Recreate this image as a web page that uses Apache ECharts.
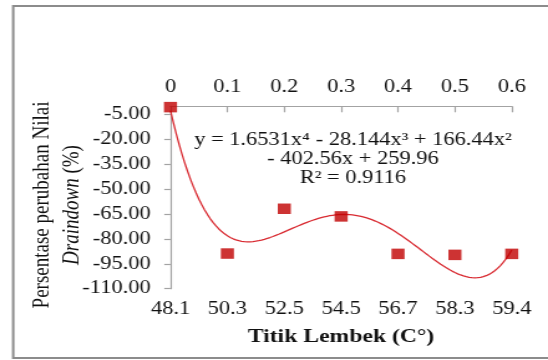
<!DOCTYPE html>
<html>
<head>
<meta charset="utf-8">
<script src="https://cdn.jsdelivr.net/npm/echarts@6/dist/echarts.min.js"></script>
<style>
  html, body { margin: 0; padding: 0; background: #fff; overflow: hidden; }
  /* The chart is laid out narrow and widened horizontally to fill the page */
  #chart { width: 440px; height: 360px; transform: scaleX(1.24545); transform-origin: 0 0; }
</style>
</head>
<body>
<div id="chart"></div>
<script>
// Softening point of each sample (bottom axis)
const softeningPoints = ['48.1', '50.3', '52.5', '54.5', '56.7', '58.3', '59.4'];
// Change in draindown value, percent
const draindownChange = [-0.5, -88.8, -61.8, -66.4, -89.0, -89.6, -89.0];
// Labels along the top axis
const topTicks = [0, 0.1, 0.2, 0.3, 0.4, 0.5, 0.6];
// Left axis tick labels
const yTicks = [-110, -95, -80, -65, -50, -35, -20, -5];
// Polynomial trendline coefficients, highest power first (x = 1..7)
const trendCoef = [1.6531, -28.144, 166.44, -402.56, 259.96];
const rSquared = 0.9116;

const FONT = "'Liberation Serif', 'Times New Roman', serif";
const AXIS_GREY = '#a3a3a3';

function poly(x) {
  return trendCoef.reduce((acc, c) => acc * x + c, 0);
}
// Trendline drawn from the fitted equation, plotted against category position
const trendLine = [];
for (let i = 0; i <= 120; i++) {
  const x = 1 + i * 6 / 120;
  trendLine.push([x - 1, poly(x)]);
}

const chart = echarts.init(document.getElementById('chart'), null, { renderer: 'canvas' });

chart.setOption({
  animation: false,
  backgroundColor: '#fff',
  grid: { left: 136.9, right: 29.1, top: 106.3, bottom: 71.3, containLabel: false },
  xAxis: [
    {
      type: 'category',
      position: 'bottom',
      data: softeningPoints,
      boundaryGap: false,
      axisLine: { show: false },
      axisTick: { show: false },
      axisLabel: { margin: 12, fontFamily: FONT, fontSize: 18, color: '#111' }
    },
    {
      type: 'value',
      position: 'top',
      min: topTicks[0],
      max: topTicks[topTicks.length - 1],
      interval: 0.1,
      axisLine: { show: true, lineStyle: { color: AXIS_GREY, width: 1.2 } },
      axisTick: { show: true, inside: true, length: 6, lineStyle: { color: AXIS_GREY, width: 1.2 } },
      splitLine: { show: false },
      axisLabel: { margin: 10, fontFamily: FONT, fontSize: 18, color: '#111',
        formatter: v => String(Math.round(v * 10) / 10) }
    },
    {
      type: 'value',
      show: false,
      min: 0,
      max: softeningPoints.length - 1
    }
  ],
  yAxis: {
    type: 'value',
    min: -110,
    max: 0,
    axisLine: { show: true, lineStyle: { color: AXIS_GREY, width: 1.2 } },
    axisTick: { show: true, length: 5, customValues: yTicks, lineStyle: { color: AXIS_GREY, width: 1.2 } },
    splitLine: { show: false },
    axisLabel: {
      customValues: yTicks,
      margin: 16,
      fontFamily: FONT,
      fontSize: 18,
      color: '#111',
      formatter: v => v.toFixed(2)
    }
  },
  series: [
    {
      type: 'line',
      xAxisIndex: 2,
      data: trendLine,
      showSymbol: false,
      smooth: false,
      lineStyle: { color: '#d92b32', width: 1.3 },
      z: 2,
      silent: true
    },
    {
      type: 'scatter',
      xAxisIndex: 0,
      data: draindownChange,
      symbol: 'rect',
      symbolSize: [10.5, 10.5],
      itemStyle: { color: '#c00000' },
      z: 3
    }
  ],
  graphic: [
    {
      type: 'rect',
      shape: { x: 10.6, y: 6, width: 600, height: 352 },
      style: { fill: 'none', stroke: '#8c8c8c', lineWidth: 2 },
      silent: true
    },
    {
      type: 'text',
      x: 34.5, y: 205,
      rotation: Math.PI / 2,
      style: {
        text: 'Persentase perubahan Nilai',
        font: '19px ' + FONT,
        fill: '#111',
        textAlign: 'center',
        textVerticalAlign: 'middle'
      }
    },
    {
      type: 'text',
      x: 57.8, y: 205,
      rotation: Math.PI / 2,
      style: {
        text: '{i|Draindown} (%)',
        font: '19px ' + FONT,
        fill: '#111',
        textAlign: 'center',
        textVerticalAlign: 'middle',
        rich: { i: { fontStyle: 'italic', fontFamily: FONT, fontSize: 19 } }
      }
    },
    {
      type: 'text',
      x: 273.8, y: 337,
      style: {
        text: 'Titik Lembek (C°)',
        font: 'bold 19px ' + FONT,
        fill: '#111',
        textAlign: 'center',
        textVerticalAlign: 'middle'
      }
    },
    {
      type: 'text',
      x: 283.4, y: 159,
      style: {
        text: 'y = ' + trendCoef[0] + 'x⁴ - ' + Math.abs(trendCoef[1]) + 'x³ + ' + trendCoef[2] + 'x²\n- ' +
              Math.abs(trendCoef[3]) + 'x + ' + trendCoef[4] + '\nR² = ' + rSquared,
        font: '18px ' + FONT,
        lineHeight: 19,
        fill: '#111',
        textAlign: 'center',
        textVerticalAlign: 'middle'
      }
    }
  ]
});
</script>
</body>
</html>
